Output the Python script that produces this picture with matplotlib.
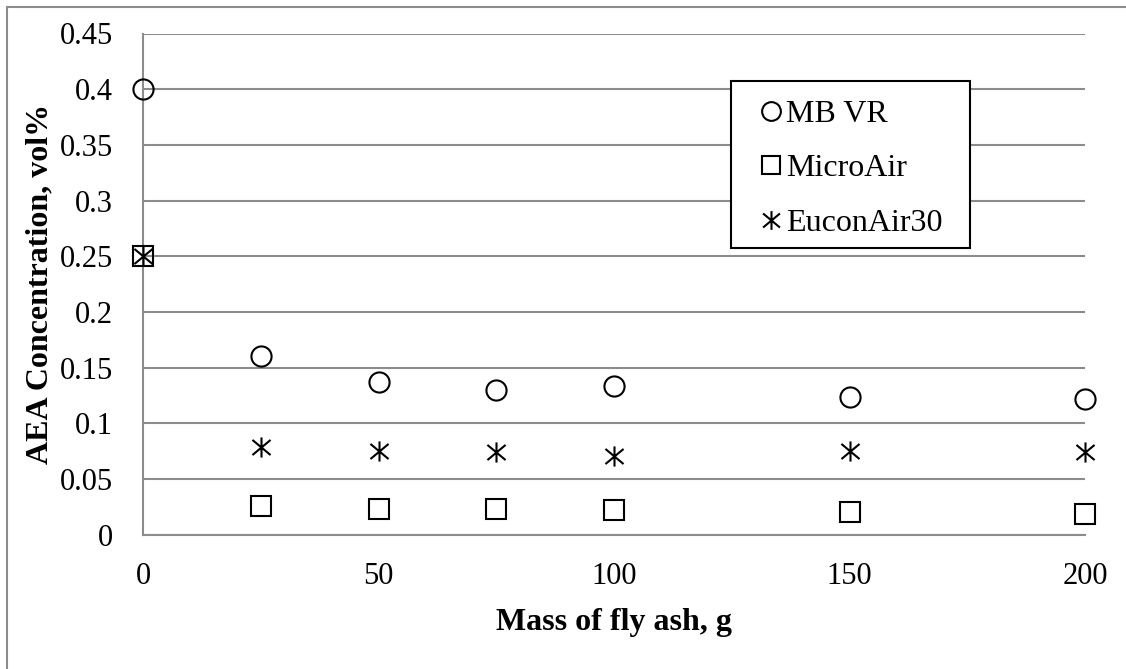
import matplotlib
matplotlib.use("Agg")
import matplotlib.pyplot as plt
from matplotlib.path import Path
from matplotlib.patches import Rectangle

# Data
mass = [0, 25, 50, 75, 100, 150, 200]
mb_vr = [0.40, 0.160, 0.137, 0.130, 0.1335, 0.124, 0.122]
micro_air = [0.25, 0.026, 0.023, 0.023, 0.022, 0.020, 0.019]
eucon_air30 = [0.25, 0.079, 0.075, 0.074, 0.071, 0.075, 0.074]
x_ticks = [0, 50, 100, 150, 200]
y_ticks = [0, 0.05, 0.1, 0.15, 0.2, 0.25, 0.3, 0.35, 0.4, 0.45]
y_tick_labels = ["0", "0.05", "0.1", "0.15", "0.2", "0.25", "0.3", "0.35", "0.4", "0.45"]

plt.rcParams['font.family'] = ['Liberation Serif', 'DejaVu Serif']

W, H = 1126, 669
fig = plt.figure(figsize=(W / 100, H / 100), dpi=100)
ax = fig.add_axes([143 / W, 1 - 534.7 / H, (1085 - 143) / W, (534.7 - 33.5) / H])

# asterisk marker: vertical line + X
ast = Path([(0, -1), (0, 1), (-0.9, -0.75), (0.9, 0.75), (-0.9, 0.75), (0.9, -0.75)],
           [Path.MOVETO, Path.LINETO, Path.MOVETO, Path.LINETO, Path.MOVETO, Path.LINETO])

common = dict(linestyle='none', markerfacecolor='none', markeredgecolor='black',
              markeredgewidth=1.5, clip_on=False, zorder=5)
ax.plot(mass, mb_vr, marker='o', markersize=14.5, label='MB VR', **common)
ax.plot(mass, micro_air, marker='s', markersize=14, label='MicroAir', **common)
ax.plot(mass, eucon_air30, marker=ast, markersize=14.5, label='EuconAir30', **common)

ax.set_xlim(0, 200)
ax.set_ylim(0, 0.45)
ax.set_xticks(x_ticks)
ax.set_yticks(y_ticks)
ax.set_yticklabels(y_tick_labels)
ax.tick_params(axis='both', length=0, labelsize=22)
ax.tick_params(axis='y', pad=21.5)
ax.tick_params(axis='x', pad=20)
ax.grid(axis='y', color='#8c8c8c', linewidth=1.5)
ax.set_axisbelow(True)
for s in ['top', 'right']:
    ax.spines[s].set_visible(False)
for s in ['left', 'bottom']:
    ax.spines[s].set_color('#8c8c8c')
    ax.spines[s].set_linewidth(1.5)

ax.set_xlabel('Mass of fly ash, g', fontsize=23, fontweight='bold', labelpad=12)
ax.set_ylabel('AEA Concentration, vol%', fontsize=23, fontweight='bold', labelpad=4)

# legend (entries), with frame drawn as a separate box
fs = 23
em = fs * 100 / 72
L = 0.6
leg_left = 771 - L * em / 2
tpad = (786 - leg_left - L * em) / em
leg = ax.legend(loc='upper left', bbox_to_anchor=(leg_left / W, 1 - 99.5 / H),
                bbox_transform=fig.transFigure,
                fontsize=fs, frameon=False,
                handlelength=L, handletextpad=tpad, labelspacing=0.79,
                borderpad=0, borderaxespad=0)
for h in leg.legend_handles:
    h.set_markersize(13.5)
leg.set_zorder(11)
ax.add_patch(Rectangle((731 / W, 1 - 248 / H), (970 - 731) / W, (248 - 81.5) / H,
                       transform=fig.transFigure, facecolor='white', edgecolor='black',
                       linewidth=1.5, zorder=10, clip_on=False))

# outer chart border
fig.patches.append(Rectangle((7 / W, -0.1), 1.2, 1.1 - 7 / H, transform=fig.transFigure,
                             fill=False, edgecolor='#8c8c8c', linewidth=1.5))

fig.savefig('out.png', dpi=100)
